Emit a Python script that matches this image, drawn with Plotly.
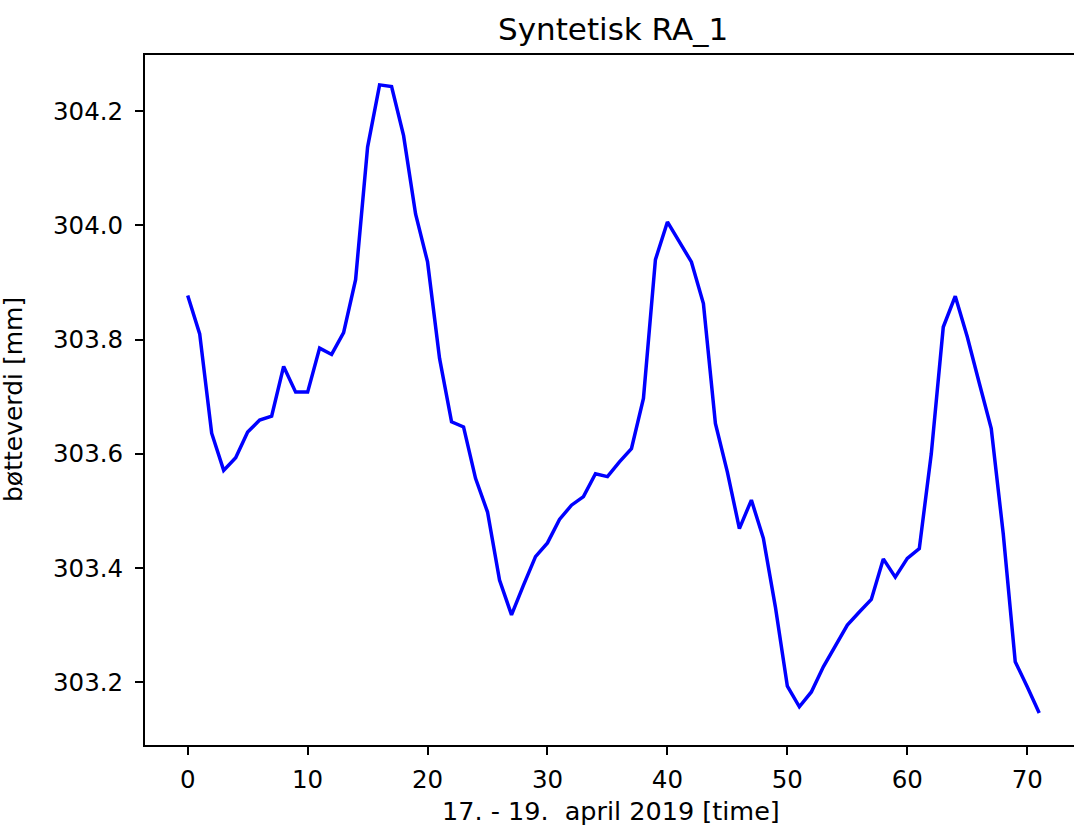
import plotly.graph_objects as go

# Hourly bucket readings, 17.-19. April 2019
hours = list(range(72))
bucket_mm = [
    303.877, 303.810, 303.636, 303.571, 303.593, 303.638, 303.659, 303.666,
    303.753, 303.708, 303.708, 303.785, 303.774, 303.812, 303.905, 304.137,
    304.246, 304.243, 304.157, 304.020, 303.936, 303.767, 303.656, 303.647,
    303.557, 303.498, 303.379, 303.318, 303.370, 303.420, 303.444, 303.485,
    303.510, 303.525, 303.565, 303.560, 303.586, 303.609, 303.697, 303.940,
    304.006, 303.971, 303.936, 303.863, 303.653, 303.568, 303.469, 303.519,
    303.452, 303.332, 303.193, 303.157, 303.183, 303.227, 303.264, 303.300,
    303.323, 303.345, 303.416, 303.384, 303.417, 303.434, 303.600, 303.822,
    303.876, 303.805, 303.724, 303.644, 303.460, 303.236, 303.192, 303.146,
]
x_ticks = [0, 10, 20, 30, 40, 50, 60, 70]
y_ticks = [303.2, 303.4, 303.6, 303.8, 304.0, 304.2]

FONT = "DejaVu Sans"
W, H = 1074, 826
M_L, M_R, M_T, M_B = 145, 0, 55, 81

fig = go.Figure()
fig.add_trace(go.Scatter(
    x=hours, y=bucket_mm, mode="lines",
    line=dict(color="#0000ff", width=3.5),
    showlegend=False, hoverinfo="x+y",
))

axis_common = dict(
    showgrid=False, zeroline=False,
    showline=True, linecolor="black", linewidth=1.9,
    ticks="outside", ticklen=8, tickwidth=1.9, tickcolor="black",
    tickfont=dict(family=FONT, size=24.5, color="black"),
)

fig.update_layout(
    width=W, height=H,
    margin=dict(l=M_L, r=M_R, t=M_T, b=M_B, pad=0),
    paper_bgcolor="white", plot_bgcolor="white",
    font=dict(family=FONT, color="black"),
    xaxis=dict(
        range=[-3.56, 73.90], tickvals=x_ticks,
        ticktext=[str(v) for v in x_ticks],
        mirror=True, ticklabelstandoff=4, **axis_common,
    ),
    yaxis=dict(
        range=[303.0901, 304.2983], tickvals=y_ticks,
        ticktext=[f"{v:.1f}" for v in y_ticks],
        mirror=False, ticklabelstandoff=7, **axis_common,
    ),
    annotations=[
        dict(text="Syntetisk RA_1", xref="paper", yref="paper",
             x=0.5033, y=1, yshift=26, xanchor="center", yanchor="middle",
             showarrow=False, font=dict(family=FONT, size=31, color="black")),
        dict(text="17. - 19.\u00a0\u00a0april 2019 [time]", xref="paper", yref="paper",
             x=0.5021, y=0, yshift=-66, xanchor="center", yanchor="middle",
             showarrow=False, font=dict(family=FONT, size=25.5, color="black")),
        dict(text="bøtteverdi [mm]", xref="paper", yref="paper",
             x=0, xshift=-132, y=0.5, xanchor="center", yanchor="middle",
             textangle=-90, showarrow=False,
             font=dict(family=FONT, size=25, color="black")),
    ],
)

fig.write_html("out.html")
